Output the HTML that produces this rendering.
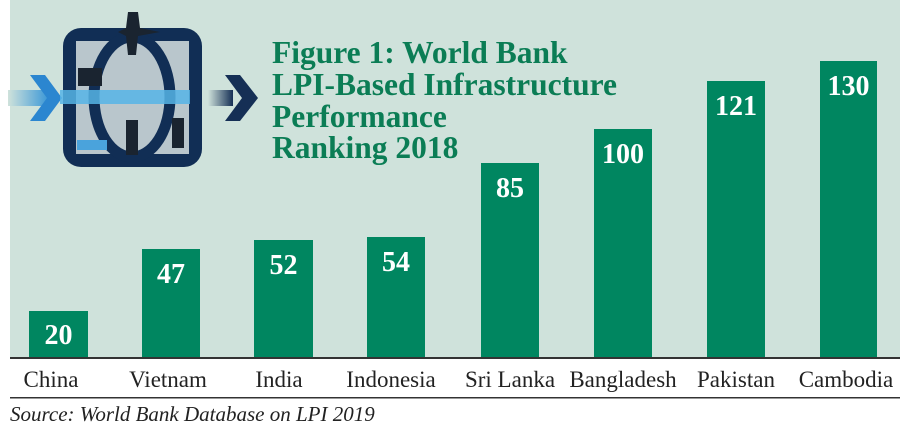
<!DOCTYPE html>
<html><head><meta charset="utf-8"><style>
html,body{margin:0;padding:0;background:#fff;width:900px;height:428px;overflow:hidden}
</style></head><body>
<svg width="900" height="428" viewBox="0 0 900 428" xmlns="http://www.w3.org/2000/svg">
<rect x="10" y="0" width="890" height="358" fill="#cfe2db"/>
<defs><linearGradient id="ga" x1="0" x2="1"><stop offset="0" stop-color="#cfe2db"/><stop offset="1" stop-color="#2a8fd6"/></linearGradient>
<linearGradient id="gb" x1="0" x2="1"><stop offset="0" stop-color="#cfe2db"/><stop offset="1" stop-color="#152f55"/></linearGradient></defs>
<rect x="8" y="90" width="45" height="16" fill="url(#ga)"/>
<polygon points="30,75 45,75 62,98 45,121 30,121 47,98" fill="#2b86d0"/>
<rect x="63" y="28" width="139" height="139" rx="18" fill="#112e55"/>
<rect x="76" y="41" width="113" height="113" fill="#b9c6cc"/>
<ellipse cx="132" cy="97" rx="38" ry="60" fill="none" stroke="#112e55" stroke-width="11"/>
<rect x="60" y="90" width="130" height="14" fill="#56b4e6" opacity="0.85"/>
<rect x="77" y="140" width="30" height="10" fill="#4aa3dc"/>
<rect x="172" y="118" width="12" height="30" fill="#1a2430"/>
<rect x="78" y="68" width="24" height="18" fill="#1a2430"/>
<rect x="126" y="120" width="12" height="35" fill="#1a2430"/>
<polygon points="128,12 138,12 140,28 160,32 138,36 136,55 128,55 126,36 118,32 126,28" fill="#1a2430"/>
<rect x="208" y="90" width="25" height="16" fill="url(#gb)"/>
<polygon points="225,75 240,75 258,98 240,121 225,121 242,98" fill="#152f55"/>
<g font-family="Liberation Serif, serif" font-weight="bold" font-size="31.5" fill="#0b7d55">
<text x="272" y="63">Figure 1: World Bank</text>
<text x="272" y="95">LPI-Based Infrastructure</text>
<text x="272" y="127">Performance</text>
<text x="272" y="158">Ranking 2018</text>
</g>
<g fill="#008660">
<rect x="29" y="311" width="59" height="47"/>
<rect x="142" y="249" width="58" height="109"/>
<rect x="254" y="240" width="59" height="118"/>
<rect x="367" y="237" width="58" height="121"/>
<rect x="481" y="163" width="58" height="195"/>
<rect x="594" y="129" width="58" height="229"/>
<rect x="707" y="81" width="58" height="277"/>
<rect x="820" y="61" width="57" height="297"/>
</g>
<g font-family="Liberation Serif, serif" font-weight="bold" font-size="28" fill="#fff" text-anchor="middle">
<text x="58.5" y="344">20</text>
<text x="171" y="283">47</text>
<text x="283.5" y="274">52</text>
<text x="396" y="271">54</text>
<text x="510" y="197">85</text>
<text x="623" y="163">100</text>
<text x="736" y="115">121</text>
<text x="848.5" y="95">130</text>
</g>
<rect x="10" y="357" width="890" height="2" fill="#333"/>
<g font-family="Liberation Serif, serif" font-size="23" fill="#222" text-anchor="middle">
<text x="51" y="387">China</text>
<text x="168" y="387">Vietnam</text>
<text x="279" y="387">India</text>
<text x="391" y="387">Indonesia</text>
<text x="510" y="387">Sri Lanka</text>
<text x="623" y="387">Bangladesh</text>
<text x="736" y="387">Pakistan</text>
<text x="846" y="387">Cambodia</text>
</g>
<rect x="10" y="397" width="890" height="1.5" fill="#333"/>
<text x="10" y="421" font-family="Liberation Serif, serif" font-style="italic" font-size="21" fill="#222">Source: World Bank Database on LPI 2019</text>
</svg>
</body></html>
